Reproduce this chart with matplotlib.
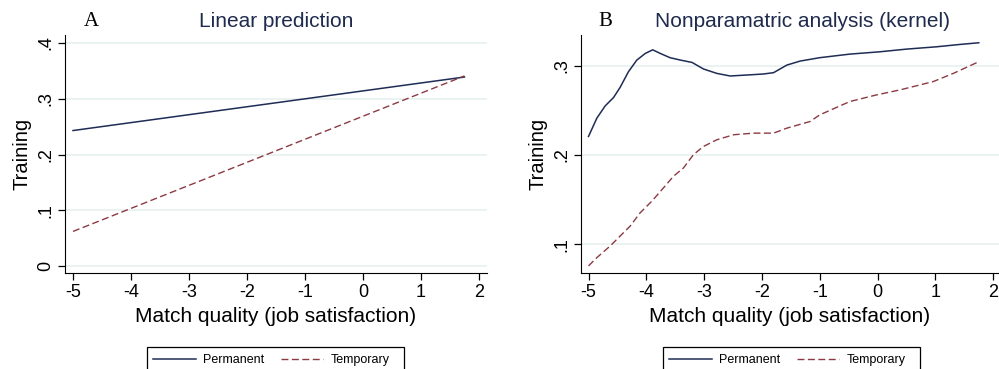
import matplotlib.pyplot as plt
from matplotlib.patches import Rectangle
import numpy as np

plt.rcParams['font.family'] = ['Liberation Sans', 'DejaVu Sans']

NAVY = "#1f2c55"
MAROON = "#8c3a42"
GRID = "#e8f0f0"

# panel A: linear predictions (endpoints)
lin_x = [-5, 1.75]
lin_perm = [0.243, 0.339]
lin_temp = [0.062, 0.341]

# panel B: kernel regression
ker_perm_x = [-5.0, -4.856, -4.712, -4.568, -4.453, -4.309, -4.165, -4.017, -3.89,
              -3.76, -3.59, -3.41, -3.21, -3.01, -2.78, -2.55, -2.26, -1.98, -1.80,
              -1.57, -1.34, -1.0, -0.48, 0.04, 0.50, 1.02, 1.42, 1.75]
ker_perm_y = [0.2208, 0.2413, 0.255, 0.2643, 0.2758, 0.2933, 0.3063, 0.3138, 0.3178,
              0.3138, 0.309, 0.3063, 0.3037, 0.2963, 0.2914, 0.2885, 0.2896, 0.2907, 0.2922,
              0.3007, 0.3052, 0.309, 0.313, 0.3156, 0.3186, 0.3212, 0.3238, 0.3257]
ker_temp_x = [-5.0, -4.856, -4.626, -4.453, -4.28, -4.107, -3.905, -3.704, -3.531,
              -3.358, -3.185, -3.01, -2.78, -2.49, -2.15, -1.80, -1.57, -1.17, -1.0,
              -0.48, -0.02, 0.386, 0.96, 1.31, 1.75]
ker_temp_y = [0.0758, 0.0851, 0.0981, 0.1093, 0.1204, 0.1353, 0.1483, 0.1632, 0.1762,
              0.1855, 0.2004, 0.2097, 0.2171, 0.2227, 0.2245, 0.2245, 0.2301, 0.2375, 0.245,
              0.2599, 0.2673, 0.2729, 0.2822, 0.2914, 0.3045]

xticks = [-5, -4, -3, -2, -1, 0, 1, 2]
yticks_a = [0, 0.1, 0.2, 0.3, 0.4]
ylabels_a = ["0", ".1", ".2", ".3", ".4"]
yticks_b = [0.1, 0.2, 0.3]
ylabels_b = [".1", ".2", ".3"]

fig = plt.figure(figsize=(9.99, 3.69), dpi=100)
W, H = 999, 369

def make_ax(left, right, top=35, bottom=273):
    return fig.add_axes([left / W, 1 - bottom / H, (right - left) / W, (bottom - top) / H])

axA = make_ax(65, 487)
axB = make_ax(581, 999)

def style(ax, yt, yl, ylim, xlim):
    for s in ["top", "right"]:
        ax.spines[s].set_visible(False)
    ax.set_xticks(xticks)
    ax.set_xticklabels([str(t) for t in xticks])
    ax.set_yticks(yt)
    ax.set_yticklabels(yl, rotation=90, va="center")
    ax.set_xlim(*xlim)
    ax.set_ylim(*ylim)
    ax.tick_params(labelsize=13, length=5, width=0.9, pad=3)
    ax.grid(axis="y", color=GRID, lw=1.2)
    ax.set_axisbelow(True)
    ax.set_xlabel("Match quality (job satisfaction)", fontsize=15, labelpad=4)
    ax.set_ylabel("Training", fontsize=14.5, labelpad=4)

axA.plot(lin_x, lin_perm, color=NAVY, lw=1.1, label="Permanent")
axA.plot(lin_x, lin_temp, color=MAROON, lw=1.0, ls=(0, (5, 2.5)), label="Temporary")
style(axA, yticks_a, ylabels_a, (-0.0126, 0.4144), (-5.138, 2.138))
axA.set_title("Linear prediction", fontsize=15, color="#1e2a4e", pad=6)

axB.plot(ker_perm_x, ker_perm_y, color=NAVY, lw=1.1, label="Permanent")
axB.plot(ker_temp_x, ker_temp_y, color=MAROON, lw=1.0, ls=(0, (5, 2.5)), label="Temporary")
style(axB, yticks_b, ylabels_b, (0.0679, 0.3344), (-5.13, 2.10))
axB.set_title("Nonparamatric analysis (kernel)", fontsize=15, color="#1e2a4e", pad=6, x=0.531)

fig.text(91 / W, 1 - 21 / H, "A", family="Liberation Serif", fontsize=15, ha="center", va="center")
fig.text(605 / W, 1 - 21 / H, "B", family="Liberation Serif", fontsize=15, ha="center", va="center")

legs = []
for ax, lx in [(axA, 147), (axB, 663)]:
    leg = ax.legend(loc="upper left", bbox_to_anchor=(lx / W, 1 - 348 / H),
                    bbox_transform=fig.transFigure, ncol=2, fontsize=9,
                    frameon=False, handlelength=3.4, columnspacing=1.3,
                    borderpad=0.5, handletextpad=0.6, borderaxespad=0)
    legs.append(leg)

# legend box, open at the bottom edge of the picture like the cropped original
fig.canvas.draw()
inv = fig.transFigure.inverted()
for leg in legs:
    bb = leg.get_window_extent()
    (x0, y0), (x1, y1) = inv.transform([(bb.x0, bb.y0), (bb.x1, bb.y1)])
    y0 = y0 - 0.05
    fig.patches.append(Rectangle((x0, y0), x1 - x0 + 8 / W, y1 - y0 + 1 / H,
                                 transform=fig.transFigure, fill=False,
                                 edgecolor="black", lw=0.9))

fig.savefig("out.png", dpi=100)
